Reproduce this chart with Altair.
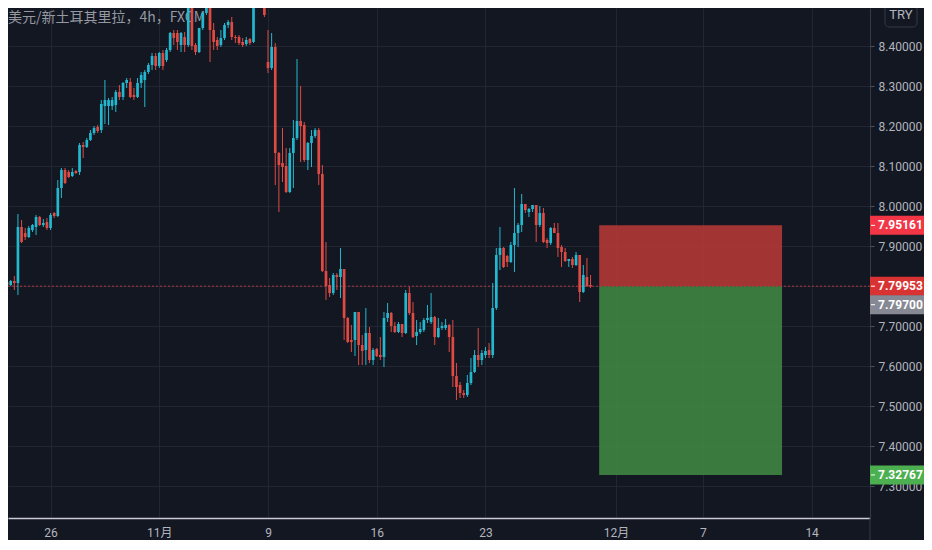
import altair as alt
import pandas as pd

TITLE = "美元/新土耳其里拉，4h，FXCM"

# 4h candles (USD/TRY, FXCM)
opens = [7.810, 7.8025, 7.8125, 7.8075, 7.9475, 7.9325, 7.9225, 7.94, 7.9475, 7.9725,
         7.9525, 7.96, 7.945, 7.9825, 7.975, 8.045, 8.09, 8.085, 8.075, 8.0875,
         8.085, 8.1525, 8.1475, 8.165, 8.1825, 8.1975, 8.19, 8.25, 8.25, 8.25,
         8.2525, 8.285, 8.2725, 8.3075, 8.31, 8.2775, 8.2725, 8.3075, 8.315, 8.335,
         8.3525, 8.375, 8.35, 8.3825, 8.365, 8.39, 8.4325, 8.4325, 8.4025, 8.4225,
         8.4025, 8.5275, 8.4025, 8.385, 8.445, 8.4825, 8.5025, 8.44, 8.415, 8.4025,
         8.42, 8.4525, 8.46, 8.4225, 8.4225, 8.41, 8.405, 8.4175, 8.41, 8.5075,
         8.54, 8.5775, 8.36, 8.345, 8.3975, 8.1325, 8.1075, 8.10, 8.035, 8.1325,
         8.17, 8.2125, 8.2025, 8.115, 8.1575, 8.175, 8.19, 8.08, 7.8375, 7.8025,
         7.7825, 7.8275, 7.8225, 7.8425, 7.72, 7.665, 7.665, 7.735, 7.6525, 7.64,
         7.6825, 7.615, 7.6425, 7.6275, 7.6225, 7.72, 7.7325, 7.70, 7.685, 7.705,
         7.6825, 7.7825, 7.7325, 7.675, 7.685, 7.69, 7.715, 7.71, 7.7225, 7.6725,
         7.695, 7.695, 7.7025, 7.6725, 7.575, 7.5525, 7.5325, 7.5275, 7.5575, 7.585,
         7.6275, 7.615, 7.6275, 7.64, 7.6275, 7.745, 7.8775, 7.895, 7.875, 7.86,
         7.9025, 7.9325, 7.9525, 8.005, 7.985, 7.9925, 8.0025, 7.9525, 7.9825, 7.915,
         7.9075, 7.945, 7.9325, 7.8975, 7.885, 7.8625, 7.8675, 7.8525, 7.8775, 7.785,
         7.8225, 7.8025]
highs = [7.8125, 7.815, 7.825, 7.98, 7.965, 7.945, 7.95, 7.955, 7.9775, 7.975,
         7.9675, 7.97, 7.9825, 7.985, 8.065, 8.095, 8.095, 8.09, 8.095, 8.09,
         8.1575, 8.16, 8.17, 8.19, 8.20, 8.2025, 8.265, 8.315, 8.27, 8.2725,
         8.29, 8.3025, 8.31, 8.32, 8.32, 8.295, 8.32, 8.335, 8.34, 8.3575,
         8.3825, 8.3825, 8.385, 8.39, 8.395, 8.435, 8.44, 8.44, 8.435, 8.435,
         8.5525, 8.5525, 8.4075, 8.445, 8.485, 8.5075, 8.5075, 8.4575, 8.4225, 8.44,
         8.4575, 8.465, 8.4725, 8.4275, 8.4275, 8.42, 8.4225, 8.42, 8.515, 8.5775,
         8.615, 8.615, 8.44, 8.4325, 8.4075, 8.135, 8.195, 8.145, 8.145, 8.215,
         8.3675, 8.30, 8.21, 8.16, 8.19, 8.195, 8.195, 8.1025, 7.91, 7.82,
         7.8325, 7.8325, 7.895, 7.8425, 7.7225, 7.7025, 7.735, 7.735, 7.6775, 7.745,
         7.6975, 7.645, 7.645, 7.6725, 7.735, 7.7575, 7.735, 7.71, 7.71, 7.705,
         7.79, 7.7975, 7.76, 7.715, 7.71, 7.72, 7.7525, 7.7825, 7.725, 7.72,
         7.71, 7.7175, 7.705, 7.715, 7.6075, 7.56, 7.54, 7.5775, 7.62, 7.64,
         7.695, 7.64, 7.6475, 7.6575, 7.8075, 7.895, 7.9475, 7.8975, 7.8775, 7.91,
         8.045, 7.9575, 8.03, 8.005, 7.995, 8.0025, 8.0025, 8.00, 7.995, 7.92,
         7.9475, 7.9575, 7.9575, 7.9025, 7.895, 7.8675, 7.8725, 7.885, 7.8775, 7.8525,
         7.87, 7.8275]
lows = [7.7925, 7.80, 7.79, 7.7775, 7.9075, 7.915, 7.92, 7.935, 7.9275, 7.95,
        7.9475, 7.94, 7.94, 7.97, 7.9725, 8.02, 8.055, 8.07, 8.0725, 8.08,
        8.0775, 8.12, 8.145, 8.1625, 8.1775, 8.1825, 8.1825, 8.205, 8.2025, 8.24,
        8.235, 8.265, 8.265, 8.295, 8.27, 8.265, 8.27, 8.295, 8.2475, 8.33,
        8.34, 8.34, 8.345, 8.34, 8.36, 8.385, 8.4025, 8.39, 8.385, 8.385,
        8.3975, 8.39, 8.3775, 8.3825, 8.44, 8.4775, 8.36, 8.39, 8.39, 8.3975,
        8.415, 8.445, 8.415, 8.4075, 8.4025, 8.3975, 8.40, 8.4025, 8.4075, 8.5025,
        8.5275, 8.4725, 8.3325, 8.34, 8.0525, 7.985, 8.06, 8.0325, 8.0325, 8.045,
        8.165, 8.11, 8.11, 8.09, 8.0975, 8.17, 8.0525, 7.835, 7.765, 7.7725,
        7.7775, 7.79, 7.77, 7.665, 7.6575, 7.635, 7.625, 7.6025, 7.6025, 7.6025,
        7.6075, 7.6025, 7.6225, 7.615, 7.5975, 7.71, 7.685, 7.6825, 7.6825, 7.6725,
        7.68, 7.7275, 7.67, 7.6525, 7.68, 7.685, 7.7075, 7.705, 7.6525, 7.67,
        7.69, 7.69, 7.635, 7.5475, 7.515, 7.52, 7.52, 7.5225, 7.5525, 7.5825,
        7.5975, 7.6025, 7.62, 7.62, 7.62, 7.74, 7.84, 7.845, 7.8475, 7.8575,
        7.835, 7.8975, 7.935, 7.9825, 7.9725, 7.985, 7.91, 7.9475, 7.9075, 7.895,
        7.9025, 7.9325, 7.8725, 7.8475, 7.86, 7.8475, 7.845, 7.85, 7.76, 7.7825,
        7.7975, 7.795]
closes = [7.8025, 7.8125, 7.8075, 7.9475, 7.91, 7.9225, 7.945, 7.9525, 7.9725, 7.9525,
          7.9575, 7.945, 7.9775, 7.975, 8.045, 8.09, 8.0575, 8.0725, 8.085, 8.0825,
          8.1525, 8.1475, 8.165, 8.1825, 8.195, 8.1875, 8.255, 8.265, 8.265, 8.265,
          8.285, 8.2725, 8.3075, 8.315, 8.2725, 8.2725, 8.3075, 8.3275, 8.335, 8.3525,
          8.375, 8.35, 8.3825, 8.35, 8.39, 8.4325, 8.42, 8.41, 8.4325, 8.4025,
          8.5275, 8.40, 8.385, 8.445, 8.4825, 8.5025, 8.44, 8.41, 8.40, 8.42,
          8.4525, 8.46, 8.4225, 8.42, 8.4075, 8.4025, 8.415, 8.4075, 8.5075, 8.54,
          8.59, 8.4775, 8.345, 8.3975, 8.1325, 8.1025, 8.0975, 8.035, 8.1325, 8.17,
          8.2125, 8.20, 8.115, 8.1575, 8.175, 8.19, 8.08, 7.8375, 7.80, 7.7825,
          7.8275, 7.8225, 7.8425, 7.72, 7.66, 7.66, 7.735, 7.6525, 7.6375, 7.6825,
          7.615, 7.64, 7.625, 7.6225, 7.72, 7.7325, 7.70, 7.685, 7.705, 7.6825,
          7.7825, 7.7325, 7.6725, 7.685, 7.6925, 7.715, 7.72, 7.7225, 7.6725, 7.695,
          7.70, 7.7025, 7.6725, 7.575, 7.5475, 7.5325, 7.5275, 7.5575, 7.585, 7.6275,
          7.615, 7.6325, 7.6375, 7.6275, 7.745, 7.8775, 7.895, 7.8475, 7.86, 7.9025,
          7.9325, 7.9525, 8.005, 7.99, 7.9925, 8.0025, 7.9525, 7.9825, 7.91, 7.9075,
          7.945, 7.9325, 7.895, 7.885, 7.8625, 7.8675, 7.8525, 7.8775, 7.785, 7.8275,
          7.80, 7.7995]

first_bar_day = -2.0      # trading days relative to Mon 26 Oct
bars_per_day = 6          # 4h bars

tick_days = [0, 5, 10, 15, 20, 26, 30, 35]
tick_labels = ["26", "11月", "9", "16", "23", "12月", "7", "14"]
price_ticks = [7.3, 7.4, 7.5, 7.6, 7.7, 7.8, 7.9, 8.0, 8.1, 8.2, 8.3, 8.4]

entry_price = 7.79953
stop_price = 7.95161
target_price = 7.32767
last_price = 7.79700
tool_start_day = 25.23
tool_end_day = 33.64

x_domain = [-1.7273, 37.4545]
y_domain = [7.22, 8.495]

# ---- styling ----
BG = "#131722"
GRID = "#222632"
UP = "#22b8cf"
DOWN = "#df4a43"
TXT = "#b2b5be"
FONT = "Roboto"
CJK = "Noto Sans CJK SC"
PW, PH = 862, 510
RIGHT, BOTTOM = 54, 22

candles = pd.DataFrame({
    "t": [first_bar_day + i / bars_per_day for i in range(len(opens))],
    "open": opens, "high": highs, "low": lows, "close": closes,
})

xs = alt.Scale(domain=x_domain, nice=False, zero=False)
ys = alt.Scale(domain=y_domain, nice=False, zero=False)

label_expr = " : ".join(
    f"round(datum.value) == {d} ? '{l}'" for d, l in zip(tick_days, tick_labels)
) + " : ''"

xaxis = alt.Axis(values=tick_days, labelExpr=label_expr, title=None, grid=True,
                 gridColor=GRID, gridWidth=1, tickSize=0, domainColor="#c9ccd3",
                 domainWidth=1.5, labelColor=TXT, labelFontSize=12,
                 labelFont=f"{FONT}, {CJK}", labelPadding=9, labelFlush=False)
yaxis = alt.Axis(orient="right", values=price_ticks, format=".5f", title=None,
                 grid=True, gridColor=GRID, gridWidth=1, tickSize=4,
                 tickColor="#50535e", domainColor="#363a45", labelColor=TXT,
                 labelFontSize=12, labelFont=FONT, labelPadding=4)


def X(f):
    return alt.X(f, type="quantitative", scale=xs, axis=xaxis)


def Y(f):
    return alt.Y(f, type="quantitative", scale=ys, axis=yaxis)


one = pd.DataFrame({"label": [TITLE]})
title = alt.Chart(one).mark_text(
    align="left", baseline="middle", fontSize=14, color="#9598a1", font=CJK
).encode(x=alt.value(0), y=alt.value(10), text="label:N")

# price-axis border continued through the time-axis strip
axis_edge = alt.Chart(one).mark_rule(color="#363a45", strokeWidth=1).encode(
    x=alt.value(PW), y=alt.value(PH), y2=alt.value(PH + BOTTOM))

tool = pd.DataFrame({
    "x0": [tool_start_day, tool_start_day],
    "x1": [tool_end_day, tool_end_day],
    "y0": [entry_price, target_price],
    "y1": [stop_price, entry_price],
    "kind": ["stop", "target"],
})
stop_rect = alt.Chart(tool).transform_filter("datum.kind == 'stop'").mark_rect(
    color="#b33835", opacity=0.9, clip=True
).encode(x=X("x0"), x2="x1", y=Y("y0"), y2="y1")
target_rect = alt.Chart(tool).transform_filter("datum.kind == 'target'").mark_rect(
    color="#3f8543", opacity=0.9, clip=True
).encode(x=X("x0"), x2="x1", y=Y("y0"), y2="y1")

entry_df = pd.DataFrame({"price": [entry_price]})
dotted = alt.Chart(entry_df).mark_rule(
    color="#c2383f", strokeDash=[2, 2], strokeWidth=1, opacity=0.9
).encode(y=Y("price"))

cond = alt.condition("datum.close >= datum.open", alt.value(UP), alt.value(DOWN))
base = alt.Chart(candles)
wicks = base.mark_rule(strokeWidth=1, clip=True).encode(
    x=X("t"), y=Y("low"), y2="high", color=cond)
bodies = base.mark_bar(width=2.7, clip=True).encode(
    x=X("t"), y=Y("open"), y2="close", color=cond)


def price_tag(price, fill, offset=0):
    d = pd.DataFrame({"price": [price]})
    b = alt.Chart(d)
    box = b.mark_rule(color=fill, strokeWidth=19, yOffset=offset).encode(
        x=alt.value(PW), x2=alt.value(PW + RIGHT), y=Y("price"))
    dash = b.mark_rule(color="white", strokeWidth=1, yOffset=offset).encode(
        x=alt.value(PW + 1), x2=alt.value(PW + 5), y=Y("price"))
    txt = b.mark_text(color="white", fontSize=12, fontWeight="bold", font=FONT,
                      dy=offset, align="left", baseline="middle").encode(
        x=alt.value(PW + 8), y=Y("price"), text=alt.Text("price:Q", format=".5f"))
    return [box, dash, txt]


tags = (price_tag(stop_price, "#f23645")
        + price_tag(entry_price, "#d93232")
        + price_tag(last_price, "#868993", 17.5)
        + price_tag(target_price, "#4caf50"))

cur = pd.DataFrame({"label": ["TRY"]})
try_box = alt.Chart(cur).mark_rect(
    fill=BG, stroke="#363a45", strokeWidth=1, cornerRadius=4
).encode(x=alt.value(PW + 15), x2=alt.value(PW + 47), y=alt.value(-8), y2=alt.value(19))
try_txt = alt.Chart(cur).mark_text(
    fontSize=13, color=TXT, font=FONT, align="center", baseline="middle"
).encode(x=alt.value(PW + 31), y=alt.value(7), text="label:N")

chart = alt.layer(
    title, axis_edge, stop_rect, target_rect, dotted, wicks, bodies, *tags,
    try_box, try_txt
).properties(
    width=PW, height=PH,
    autosize=alt.AutoSizeParams(type="none"),
    padding={"left": 0, "top": 0, "right": RIGHT, "bottom": BOTTOM},
).configure(background=BG).configure_view(stroke=None)

chart.save("out.html", embed_options={"renderer": "svg", "actions": False})
